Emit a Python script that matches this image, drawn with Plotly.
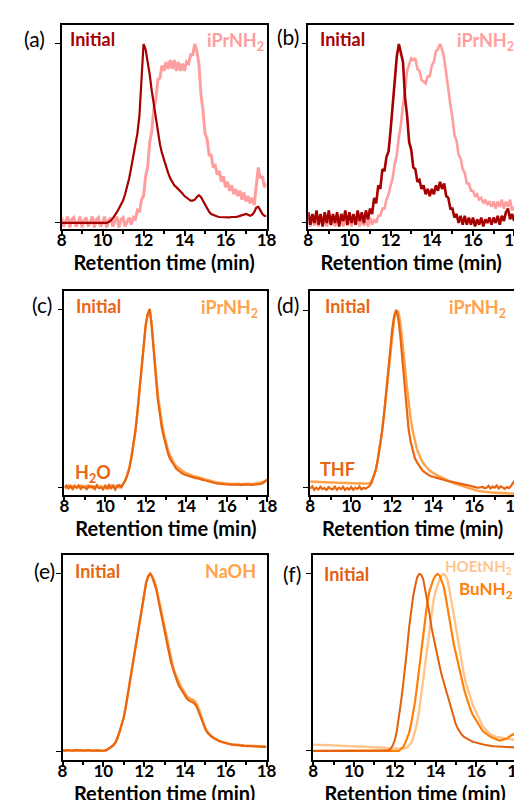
import plotly.graph_objects as go

# retention time grid (min), 0.1 min steps from 8.0 to 18.0
retention_time = [round(8 + 0.1 * i, 1) for i in range(101)]

# ---- panel (a) ----
a_initial = [0, 0, 0, 0, 0, 0, 0, 0, 0, 0,
             0, 0, 0, 0, 0, 0, 0, 0, 0, 0,
             0, 0, 0, 0.005, 0.012, 0.025, 0.04, 0.06, 0.08, 0.1,
             0.125, 0.16, 0.2, 0.25, 0.31, 0.38, 0.44, 0.5, 0.6, 0.8,
             1.0, 0.97, 0.91, 0.83, 0.74, 0.66, 0.58, 0.5, 0.44, 0.39,
             0.35, 0.32, 0.28, 0.25, 0.23, 0.21, 0.2, 0.19, 0.18, 0.165,
             0.15, 0.14, 0.13, 0.125, 0.125, 0.13, 0.145, 0.155, 0.145, 0.125,
             0.1, 0.078, 0.062, 0.05, 0.044, 0.04, 0.036, 0.033, 0.032, 0.031,
             0.031, 0.032, 0.031, 0.033, 0.032, 0.034, 0.035, 0.038, 0.04, 0.043,
             0.05, 0.045, 0.04, 0.045, 0.06, 0.085, 0.09, 0.07, 0.05, 0.04,
             0.037]
a_iprnh2 = [0.03, -0.02, 0.01, 0.035, -0.025, 0.02, 0.03, -0.02, 0.0, 0.035,
            -0.025, 0.015, 0.03, -0.02, 0.005, 0.035, -0.025, 0.02, 0.03, -0.02,
            0.0, 0.035, -0.025, 0.015, 0.03, -0.02, 0.01, 0.035, -0.025, 0.02,
            0.03, -0.02, 0.005, 0.03, -0.01, 0.03, 0.02, 0.07, 0.06, 0.13,
            0.15, 0.26, 0.31, 0.45, 0.51, 0.64, 0.69, 0.8, 0.81, 0.88,
            0.85, 0.9, 0.86, 0.91, 0.86, 0.91, 0.85, 0.9, 0.85, 0.89,
            0.85, 0.9, 0.89, 0.94, 0.94, 1.0, 0.96, 0.89, 0.72, 0.63,
            0.5, 0.47, 0.38, 0.38, 0.31, 0.32, 0.27, 0.29, 0.23, 0.26,
            0.2, 0.23, 0.18, 0.21, 0.16, 0.19, 0.15, 0.18, 0.13, 0.17,
            0.12, 0.15, 0.11, 0.14, 0.1, 0.21, 0.31, 0.25, 0.26, 0.2,
            0.22]

# ---- panel (b) ----
b_initial = [0.06, -0.01, 0.05, 0.0, 0.07, -0.01, 0.05, -0.02, 0.06, 0.0,
             0.07, -0.01, 0.05, 0.0, 0.06, -0.02, 0.05, 0.01, 0.07, -0.01,
             0.06, 0.0, 0.05, -0.01, 0.07, 0.01, 0.06, 0.0, 0.07, 0.02,
             0.08, 0.05, 0.14, 0.11, 0.21, 0.19, 0.3, 0.29, 0.37, 0.4,
             0.52, 0.66, 0.83, 0.93, 1.0, 0.95, 0.9, 0.7, 0.6, 0.45,
             0.41, 0.31, 0.3, 0.23, 0.24, 0.19, 0.21, 0.16, 0.19, 0.15,
             0.19, 0.16, 0.21, 0.18, 0.23, 0.19, 0.22, 0.15, 0.14, 0.08,
             0.08, 0.03, 0.05, 0.0, 0.04, -0.01, 0.04, -0.01, 0.03, -0.01,
             0.03, -0.02, 0.02, -0.01, 0.03, -0.02, 0.02, 0.0, 0.03, -0.01,
             0.03, 0.0, 0.04, -0.01, 0.04, 0.01, 0.06, 0.08, 0.02, 0.05,
             0.01]
b_iprnh2 = [0.02, -0.02, 0.025, -0.015, 0.02, -0.02, 0.03, -0.01, 0.02, -0.02,
            0.025, -0.015, 0.02, -0.02, 0.03, -0.01, 0.02, -0.02, 0.025, -0.015,
            0.02, -0.02, 0.03, -0.01, 0.02, -0.02, 0.025, -0.015, 0.02, -0.02,
            0.03, -0.01, 0.02, 0.0, 0.04, 0.04, 0.08, 0.08, 0.13, 0.16,
            0.21, 0.25, 0.33, 0.38, 0.48, 0.55, 0.66, 0.74, 0.85, 0.88,
            0.92, 0.91, 0.92, 0.86, 0.85, 0.8, 0.79, 0.78, 0.82, 0.82,
            0.88, 0.9, 0.96, 0.97, 1.0, 0.97, 0.92, 0.82, 0.75, 0.66,
            0.59, 0.49, 0.46, 0.38, 0.36, 0.3, 0.28, 0.22, 0.22, 0.18,
            0.18, 0.15, 0.16, 0.13, 0.14, 0.11, 0.13, 0.1, 0.12, 0.09,
            0.12, 0.08, 0.12, 0.09, 0.13, 0.08, 0.12, 0.09, 0.13, 0.07,
            0.09]

# ---- panel (c) ----
c_initial = [0.0, 0.01, -0.005, 0.008, -0.01, 0.005, 0.0, 0.01, -0.008, 0.005,
             0.0, -0.01, 0.008, 0.0, 0.005, -0.01, 0.01, -0.005, 0.0, -0.012,
             0.008, -0.01, 0.012, -0.005, 0.01, -0.012, 0.005, 0.012, 0.0, 0.02,
             0.04, 0.07, 0.11, 0.17, 0.24, 0.32, 0.43, 0.54, 0.67, 0.8,
             0.91, 0.97, 1.0, 0.9, 0.78, 0.62, 0.49, 0.4, 0.33, 0.28,
             0.23, 0.19, 0.16, 0.14, 0.12, 0.105, 0.095, 0.085, 0.078, 0.072,
             0.068, 0.062, 0.058, 0.055, 0.052, 0.05, 0.05, 0.045, 0.042, 0.04,
             0.036, 0.032, 0.03, 0.027, 0.024, 0.022, 0.02, 0.019, 0.018, 0.017,
             0.016, 0.015, 0.016, 0.015, 0.014, 0.016, 0.015, 0.013, 0.016, 0.015,
             0.014, 0.016, 0.015, 0.014, 0.016, 0.015, 0.018, 0.02, 0.025, 0.035,
             0.04]
c_iprnh2 = [0.008, -0.005, 0.01, 0.0, 0.005, 0.01, -0.005, 0.005, 0.01, 0.0,
            0.005, 0.01, 0.0, 0.008, -0.005, 0.005, 0.012, 0.0, 0.006, 0.002,
            0.0, 0.008, -0.006, 0.01, 0.0, 0.006, 0.012, 0.0, 0.01, 0.02,
            0.04, 0.07, 0.11, 0.17, 0.24, 0.32, 0.43, 0.54, 0.67, 0.8,
            0.91, 0.97, 1.0, 0.91, 0.8, 0.65, 0.52, 0.43, 0.36, 0.3,
            0.25, 0.21, 0.18, 0.155, 0.135, 0.12, 0.11, 0.1, 0.09, 0.085,
            0.08, 0.075, 0.07, 0.066, 0.062, 0.06, 0.058, 0.054, 0.05, 0.046,
            0.042, 0.038, 0.035, 0.032, 0.03, 0.028, 0.026, 0.024, 0.022, 0.021,
            0.02, 0.02, 0.019, 0.02, 0.018, 0.019, 0.02, 0.018, 0.019, 0.02,
            0.019, 0.02, 0.018, 0.02, 0.019, 0.021, 0.022, 0.025, 0.03, 0.038,
            0.045]

# ---- panel (d) ----
d_initial = [-0.005, 0.008, -0.012, 0.0, -0.01, 0.005, -0.008, -0.002, -0.012, 0.004,
             -0.006, -0.01, 0.006, -0.012, 0.0, -0.008, 0.005, -0.012, -0.002, -0.01,
             0.004, -0.012, 0.0, -0.008, 0.006, -0.01, 0.0, -0.006, 0.002, 0.01,
             0.03, 0.06, 0.1, 0.16, 0.23, 0.31, 0.41, 0.52, 0.64, 0.77,
             0.89, 0.97, 1.0, 0.95, 0.85, 0.72, 0.57, 0.43, 0.33, 0.26,
             0.21, 0.17, 0.145, 0.125, 0.11, 0.095, 0.085, 0.077, 0.07, 0.064,
             0.06, 0.057, 0.054, 0.05, 0.048, 0.045, 0.04, 0.038, 0.036, 0.034,
             0.032, 0.03, 0.028, 0.025, 0.02, 0.018, 0.016, 0.014, 0.01, 0.008,
             0.005, 0.002, 0.0, 0.0, 0.004, -0.002, 0.0, 0.01, -0.004, 0.006,
             0.0, 0.012, -0.004, 0.008, 0.0, -0.006, 0.004, -0.002, 0.01, 0.03,
             0.045]
d_iprnh2 = [0.035, 0.034, 0.033, 0.034, 0.032, 0.031, 0.032, 0.03, 0.031, 0.03,
            0.029, 0.03, 0.028, 0.029, 0.027, 0.028, 0.027, 0.026, 0.027, 0.026,
            0.025, 0.026, 0.025, 0.024, 0.025, 0.024, 0.023, 0.024, 0.023, 0.025,
            0.04, 0.065, 0.1, 0.16, 0.23, 0.31, 0.41, 0.52, 0.64, 0.77,
            0.88, 0.95, 0.995, 0.99, 0.93, 0.83, 0.71, 0.59, 0.48, 0.39,
            0.32, 0.26, 0.22, 0.19, 0.16, 0.14, 0.125, 0.11, 0.1, 0.09,
            0.082, 0.076, 0.07, 0.064, 0.058, 0.052, 0.046, 0.041, 0.036, 0.031,
            0.026, 0.022, 0.018, 0.014, 0.01, 0.006, 0.002, -0.002, -0.005, -0.008,
            -0.012, -0.015, -0.018, -0.02, -0.022, -0.024, -0.025, -0.026, -0.027, -0.028,
            -0.028, -0.029, -0.029, -0.03, -0.03, -0.031, -0.031, -0.032, -0.033, -0.033,
            -0.034]

# ---- panel (e) ----
e_initial = [0.005, 0.003, 0.006, 0.004, 0.006, 0.003, 0.005, 0.008, 0.004, 0.006,
             0.003, 0.005, 0.004, 0.006, 0.003, 0.005, 0.004, 0.005, 0.003, 0.004,
             0.005, 0.003, 0.01, 0.018, 0.025, 0.035, 0.05, 0.075, 0.11, 0.15,
             0.19, 0.25, 0.32, 0.39, 0.46, 0.53, 0.6, 0.67, 0.75, 0.83,
             0.9, 0.95, 0.985, 1.0, 0.98, 0.95, 0.91, 0.85, 0.79, 0.73,
             0.68, 0.62, 0.56, 0.51, 0.47, 0.43, 0.4, 0.37, 0.35, 0.33,
             0.31, 0.295, 0.285, 0.28, 0.275, 0.265, 0.245, 0.215, 0.185, 0.15,
             0.125, 0.105, 0.092, 0.083, 0.075, 0.068, 0.062, 0.056, 0.052, 0.048,
             0.045, 0.042, 0.04, 0.038, 0.036, 0.035, 0.034, 0.033, 0.032, 0.031,
             0.03, 0.03, 0.029, 0.03, 0.028, 0.029, 0.028, 0.027, 0.026, 0.025,
             0.025]
e_naoh = [0.006, 0.004, 0.005, 0.007, 0.004, 0.006, 0.005, 0.004, 0.006, 0.005,
          0.004, 0.006, 0.005, 0.004, 0.006, 0.005, 0.003, 0.006, 0.004, 0.005,
          0.004, 0.006, 0.01, 0.018, 0.025, 0.035, 0.05, 0.075, 0.11, 0.15,
          0.19, 0.25, 0.32, 0.39, 0.46, 0.53, 0.6, 0.67, 0.75, 0.83,
          0.9, 0.95, 0.985, 1.0, 0.985, 0.96, 0.92, 0.865, 0.805, 0.745,
          0.695, 0.635, 0.575, 0.525, 0.485, 0.445, 0.415, 0.385, 0.365, 0.345,
          0.325, 0.31, 0.3, 0.295, 0.29, 0.28, 0.26, 0.23, 0.195, 0.16,
          0.132, 0.11, 0.096, 0.086, 0.078, 0.07, 0.064, 0.058, 0.054, 0.05,
          0.047, 0.044, 0.042, 0.04, 0.038, 0.037, 0.036, 0.035, 0.034, 0.033,
          0.032, 0.031, 0.031, 0.03, 0.03, 0.029, 0.029, 0.028, 0.028, 0.027,
          0.027]

# ---- panel (f) ----
f_initial = [0, 0, 0, 0, 0, 0, 0, 0, 0, 0,
             0, 0, 0, 0, 0, 0, 0, 0, 0, 0,
             0, 0, 0, 0, 0, 0, 0, 0, 0, 0,
             0, 0, 0, 0, 0, 0, 0.002, 0.005, 0.012, 0.03,
             0.06, 0.11, 0.18, 0.27, 0.36, 0.45, 0.57, 0.69, 0.79, 0.87,
             0.93, 0.98, 1.0, 0.995, 0.97, 0.91, 0.85, 0.78, 0.7, 0.64,
             0.59, 0.53, 0.48, 0.43, 0.39, 0.34, 0.3, 0.26, 0.22, 0.18,
             0.15, 0.125, 0.105, 0.09, 0.08, 0.072, 0.065, 0.058, 0.053, 0.05,
             0.046, 0.043, 0.04, 0.038, 0.035, 0.032, 0.03, 0.029, 0.027, 0.026,
             0.025, 0.024, 0.023, 0.022, 0.022, 0.021, 0.021, 0.02, 0.02, 0.02,
             0.02]
f_bunh2 = [0, 0, 0, 0, 0, 0, 0, 0, 0, 0,
           0, 0, 0, 0, 0, 0, 0, 0, 0, 0,
           0, 0, 0, 0, 0, 0, 0, 0, 0, 0,
           0, 0, 0, 0, 0, 0, 0, 0, 0, 0,
           0, 0, 0, 0.01, 0.02, 0.04, 0.07, 0.1, 0.15, 0.21,
           0.28, 0.37, 0.47, 0.57, 0.67, 0.76, 0.84, 0.9, 0.94, 0.97,
           0.99, 1.0, 0.99, 0.96, 0.93, 0.87, 0.8, 0.73, 0.66, 0.6,
           0.55, 0.5, 0.44, 0.4, 0.35, 0.31, 0.27, 0.24, 0.21, 0.19,
           0.17, 0.15, 0.13, 0.115, 0.105, 0.095, 0.087, 0.08, 0.075, 0.07,
           0.065, 0.06, 0.06, 0.062, 0.065, 0.07, 0.08, 0.09, 0.095, 0.085,
           0.075]
f_hoetnh2 = [0.036, 0.035, 0.036, 0.034, 0.035, 0.033, 0.034, 0.032, 0.033, 0.031,
             0.032, 0.03, 0.031, 0.029, 0.03, 0.028, 0.029, 0.027, 0.028, 0.026,
             0.027, 0.025, 0.026, 0.024, 0.025, 0.023, 0.024, 0.022, 0.023, 0.021,
             0.022, 0.02, 0.021, 0.019, 0.02, 0.018, 0.017, 0.016, 0.015, 0.015,
             0.014, 0.013, 0.013, 0.012, 0.013, 0.015, 0.02, 0.03, 0.045, 0.07,
             0.11, 0.16, 0.23, 0.32, 0.42, 0.52, 0.61, 0.7, 0.78, 0.85,
             0.9, 0.94, 0.97, 0.99, 1.0, 0.99, 0.96, 0.9, 0.83, 0.76,
             0.69, 0.62, 0.56, 0.49, 0.43, 0.38, 0.34, 0.3, 0.27, 0.24,
             0.215, 0.19, 0.165, 0.145, 0.128, 0.115, 0.103, 0.094, 0.088, 0.083,
             0.08, 0.078, 0.077, 0.075, 0.073, 0.07, 0.068, 0.066, 0.064, 0.062,
             0.06]

x_tick_vals = [8, 10, 12, 14, 16, 18]
x_minor_vals = [9, 11, 13, 15, 17]
x_title = "Retention time (min)"

DARK_RED = "#a60000"
PINK = "#ff9e9e"
ORANGE = "#ea6510"
LIGHT_ORANGE = "#ffa24a"
BU_ORANGE = "#ff8008"
PALE_ORANGE = "#ffc58c"

W, H = 522, 800
FONT = "Lato"

fig = go.Figure()

# panel geometry in pixels: (left, right, top, bottom), y-range
panels = [
    (50, 261, 17, 221, [-0.034, 1.106]),
    (304, 516, 17, 221, [-0.034, 1.106]),
    (53, 262, 283, 487, [-0.043, 1.101]),
    (306, 517, 283, 487, [-0.041, 1.107]),
    (51, 261, 547, 752, [-0.049, 1.105]),
    (309, 519, 547, 752, [-0.051, 1.107]),
]

series = [
    [(a_iprnh2, PINK, 3.0), (a_initial, DARK_RED, 2.2)],
    [(b_iprnh2, PINK, 2.6), (b_initial, DARK_RED, 2.6)],
    [(c_iprnh2, LIGHT_ORANGE, 2.4), (c_initial, ORANGE, 2.2)],
    [(d_iprnh2, LIGHT_ORANGE, 2.4), (d_initial, ORANGE, 2.2)],
    [(e_naoh, LIGHT_ORANGE, 2.4), (e_initial, ORANGE, 2.2)],
    [(f_hoetnh2, PALE_ORANGE, 2.4), (f_bunh2, BU_ORANGE, 2.2), (f_initial, "#e2600e", 2.0)],
]

layout_axes = {}
for i, ((l, r, t, b, yr), ser) in enumerate(zip(panels, series)):
    n = "" if i == 0 else str(i + 1)
    for vals, col, w in ser:
        fig.add_trace(go.Scatter(x=retention_time, y=vals, mode="lines",
                                 line=dict(color=col, width=w),
                                 xaxis="x" + n, yaxis="y" + n,
                                 showlegend=False, hoverinfo="skip"))
    layout_axes["xaxis" + n] = dict(
        domain=[l / W, r / W], anchor="y" + n, range=[8, 18],
        showline=True, mirror=True, linecolor="black", linewidth=1.5,
        showgrid=False, zeroline=False,
        tickmode="array", tickvals=x_tick_vals,
        ticks="outside", ticklen=5, tickwidth=1.5, tickcolor="black",
        ticklabelstandoff=-10,
        tickfont=dict(family=FONT, size=17, color="black", weight="bold"),
        minor=dict(tickmode="array", tickvals=x_minor_vals, ticks="outside",
                   ticklen=3, tickwidth=1.5, tickcolor="black", showgrid=False),
        title=dict(text=x_title, standoff=1,
                   font=dict(family=FONT, size=20, color="black", weight="bold")),
    )
    layout_axes["yaxis" + n] = dict(
        domain=[1 - b / H, 1 - t / H], anchor="x" + n, range=yr,
        showline=True, mirror=True, linecolor="black", linewidth=1.5,
        showgrid=False, zeroline=False,
        tickmode="array", tickvals=[0, 1], showticklabels=False,
        ticks="outside", ticklen=5, tickwidth=1.2, tickcolor="black",
    )

fig.update_layout(**layout_axes)

def px_ann(text, x, y, color="black", size=18, bold=True):
    return dict(text=text, x=x / W, y=1 - y / H, xref="paper", yref="paper",
                xanchor="left", yanchor="middle", showarrow=False,
                font=dict(family=FONT, size=size, color=color,
                          weight="bold" if bold else "normal"))

IPR = "iPrNH<sub>2</sub>"
anns = [
    px_ann("(a)", 9, 31, size=21, bold=False),
    px_ann("Initial", 57, 31, DARK_RED),
    px_ann(IPR, 198, 33, PINK),
    px_ann("(b)", 270, 28, size=21, bold=False),
    px_ann("Initial", 314, 31, DARK_RED),
    px_ann(IPR, 455, 33, PINK),
    px_ann("(c)", 17, 296, size=21, bold=False),
    px_ann("Initial", 63, 298, ORANGE),
    px_ann(IPR, 192, 300, LIGHT_ORANGE),
    px_ann("H<sub>2</sub>O", 62, 465, ORANGE),
    px_ann("(d)", 270, 296, size=21, bold=False),
    px_ann("Initial", 319, 298, ORANGE),
    px_ann(IPR, 447, 300, LIGHT_ORANGE),
    px_ann("THF", 314, 461, ORANGE),
    px_ann("(e)", 20, 562, size=21, bold=False),
    px_ann("Initial", 62, 563, ORANGE),
    px_ann("NaOH", 196, 563, LIGHT_ORANGE),
    px_ann("(f)", 276, 565, size=21, bold=False),
    px_ann("Initial", 318, 566, "#e2600e"),
    px_ann("HOEtNH<sub>2</sub>", 443, 559, PALE_ORANGE, size=15),
    px_ann("BuNH<sub>2</sub>", 457, 582, BU_ORANGE, size=17),
]

fig.update_layout(
    width=W, height=H,
    margin=dict(l=0, r=0, t=0, b=0),
    paper_bgcolor="white", plot_bgcolor="white",
    font=dict(family=FONT),
    annotations=anns,
    showlegend=False,
)

fig.write_html("out.html")
